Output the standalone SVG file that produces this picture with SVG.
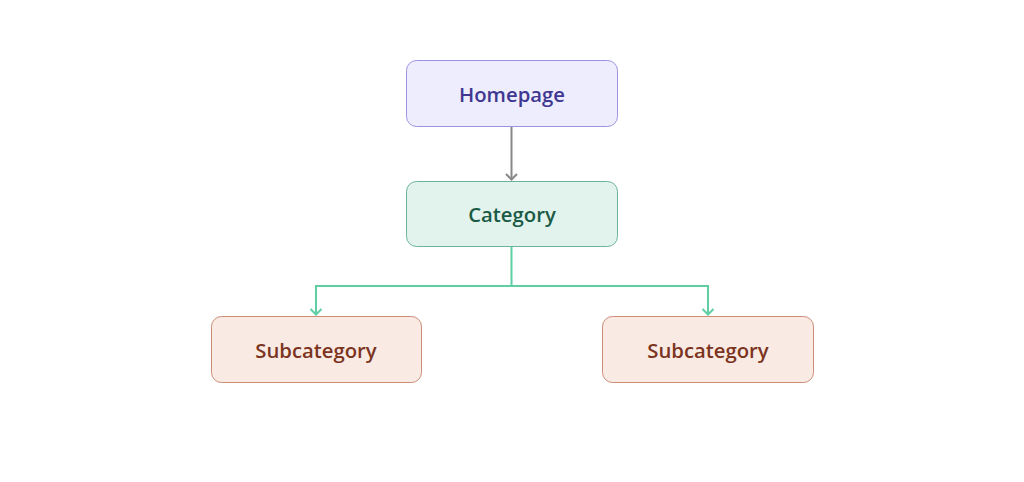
<svg xmlns="http://www.w3.org/2000/svg" width="1024" height="482" viewBox="0 0 1024 482">
<defs>
<style>
.lbl{font-family:"Open Sans","Noto Sans",sans-serif;font-size:20.3px;font-weight:600;text-anchor:middle;dominant-baseline:central}
.conn{fill:none;stroke-width:2}
</style>
<marker id="ag" viewBox="0 0 14 14" refX="7" refY="13" markerWidth="14" markerHeight="14" markerUnits="userSpaceOnUse">
<path d="M1.5,7 L7,12.5 L12.5,7" fill="none" stroke="#888888" stroke-width="2"/>
</marker>
<marker id="agr" viewBox="0 0 14 14" refX="7" refY="13" markerWidth="14" markerHeight="14" markerUnits="userSpaceOnUse">
<path d="M1.5,7 L7,12.5 L12.5,7" fill="none" stroke="#5fcfa3" stroke-width="2"/>
</marker>
</defs>
<rect width="1024" height="482" fill="#ffffff"/>
<g id="connectors">
<path class="conn" d="M511.5,126 V180" stroke="#888888" marker-end="url(#ag)"/>
<path class="conn" d="M511.5,246 V286 H316 V315" stroke="#5fcfa3" marker-end="url(#agr)"/>
<path class="conn" d="M511.5,286 H708 V315" stroke="#5fcfa3" marker-end="url(#agr)"/>
</g>
<g id="homepage">
<rect x="406.5" y="60.5" width="211" height="66" rx="10" fill="#eeedfd" stroke="#9b93df" stroke-width="1"/>
<text class="lbl" x="512" y="94" fill="#3f3791">Homepage</text>
</g>
<g id="category">
<rect x="406.5" y="181.5" width="211" height="65" rx="10" fill="#e1f3ec" stroke="#6cb397" stroke-width="1"/>
<text class="lbl" x="512" y="214" fill="#1a5a45">Category</text>
</g>
<g id="subcategory-left">
<rect x="211.5" y="316.5" width="210" height="66" rx="10" fill="#faeae4" stroke="#cc8c78" stroke-width="1"/>
<text class="lbl" x="316" y="350" fill="#7a3420">Subcategory</text>
</g>
<g id="subcategory-right">
<rect x="602.5" y="316.5" width="211" height="66" rx="10" fill="#faeae4" stroke="#cc8c78" stroke-width="1"/>
<text class="lbl" x="708" y="350" fill="#7a3420">Subcategory</text>
</g>
</svg>
